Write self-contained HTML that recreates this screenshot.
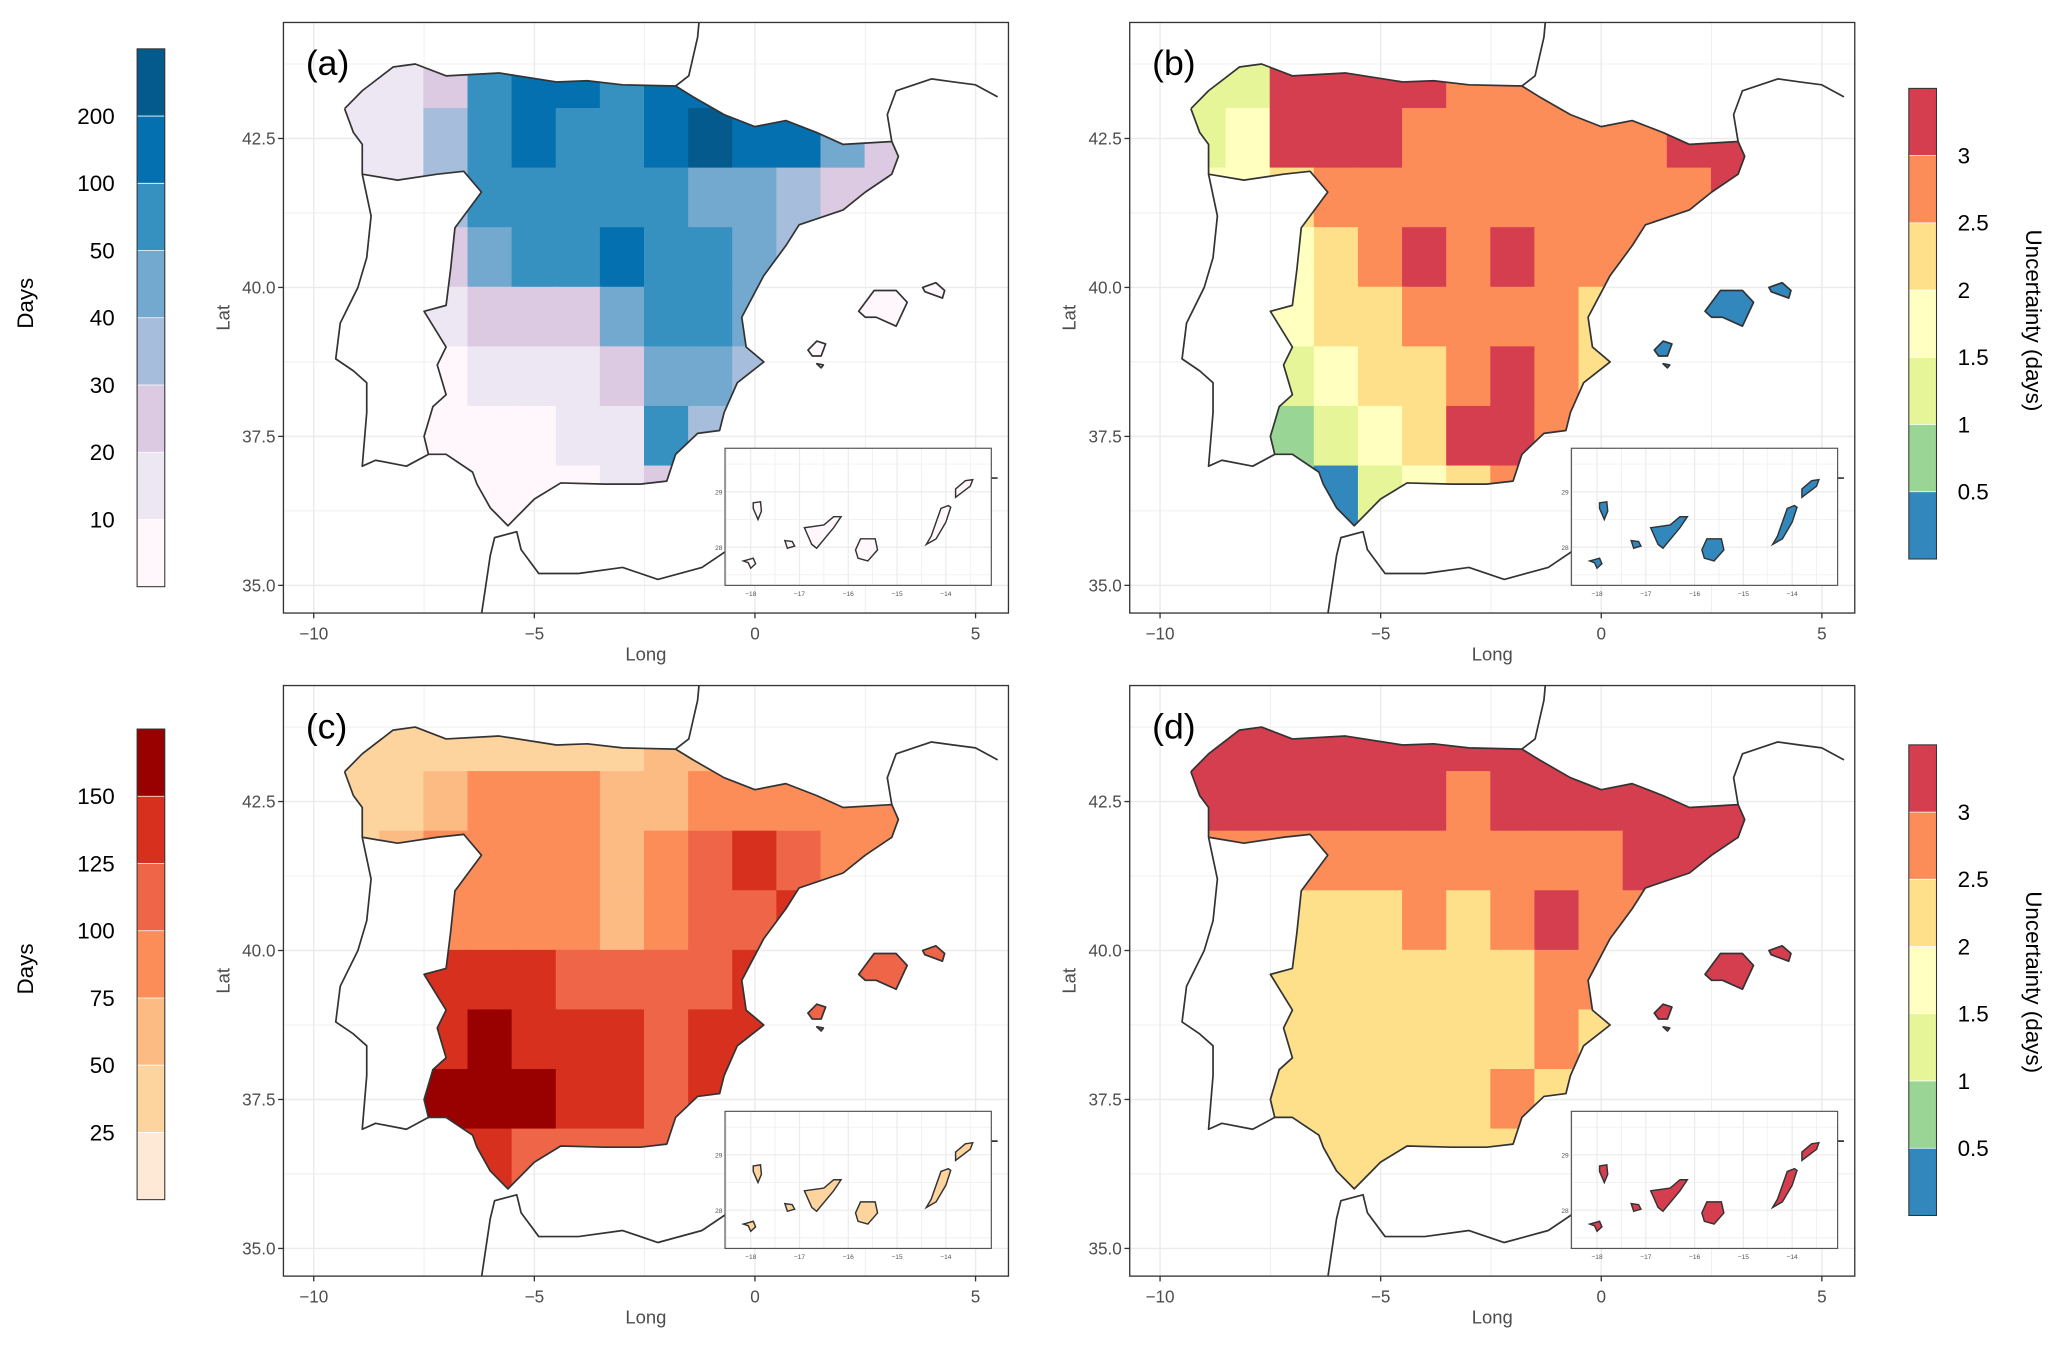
<!DOCTYPE html>
<html><head><meta charset="utf-8"><style>
html,body{margin:0;padding:0;background:#fff;}
svg{display:block;font-family:"Liberation Sans",Arial,sans-serif;}
</style></head><body>
<svg id="fig" width="2067" height="1350" viewBox="0 0 1568 1024" xmlns="http://www.w3.org/2000/svg"></svg>
<script>
// ---- data ----
const lonCenters=[-9,-8,-7,-6,-5,-4,-3,-2,-1,0,1,2,3];
const latCenters=[43.5,42.5,41.5,40.5,39.5,38.5,37.5,36.5];
const gridA=[
[15,15,25,60,100,100,60,100,100,60,40,40,40],
[10,15,30,60,100,60,60,100,200,100,100,40,20],
[10,10,30,60,60,60,60,60,45,40,30,20,20],
[10,10,20,45,60,60,100,60,60,40,30,20,10],
[5,5,10,20,20,20,40,50,60,40,30,20,15],
[5,5,5,10,10,15,20,40,45,30,15,10,10],
[5,5,5,5,5,10,15,60,30,10,10,5,5],
[5,5,5,5,5,5,10,20,10,5,5,5,5]];
const gridB=[
[1.2,1.2,3.2,3.2,3.2,3.2,2.7,2.7,2.7,2.7,2.7,2.7,2.7],
[1.2,1.7,3.2,3.2,3.2,2.7,2.7,2.7,2.7,2.7,2.7,3.2,3.2],
[1.7,1.7,2.2,2.7,2.7,2.7,2.7,2.7,2.7,2.7,2.7,2.7,3.2],
[1.7,1.7,1.7,2.2,2.7,3.2,2.7,3.2,2.7,2.7,2.7,2.7,2.7],
[1.7,1.7,1.7,2.2,2.2,2.7,2.7,2.7,2.7,2.2,1.7,1.7,1.7],
[1.7,1.7,1.2,1.7,2.2,2.2,2.7,3.2,2.7,2.2,1.7,1.7,1.7],
[1.2,1.2,0.7,1.2,1.7,2.2,3.2,3.2,2.7,2.2,1.7,1.7,1.7],
[0.2,0.2,0.7,0.2,1.2,1.7,2.2,2.7,2.2,1.7,1.7,1.7,1.7]];
const gridC=[
[40,40,40,40,40,40,40,50,50,50,60,60,60],
[40,40,60,80,80,80,60,60,80,90,90,80,80],
[40,60,80,80,80,80,60,90,110,130,110,90,90],
[60,80,90,90,90,80,70,90,110,110,130,120,110],
[130,130,130,130,130,110,100,110,110,130,130,130,130],
[130,130,140,160,130,130,130,120,130,130,130,130,130],
[160,160,160,160,160,140,130,120,140,140,130,130,130],
[130,130,140,140,110,100,100,100,120,120,120,120,120]];
const gridD=[
[3.2,3.2,3.2,3.2,3.2,3.2,3.2,3.2,3.2,3.2,3.2,3.2,3.2],
[3.2,3.2,3.2,3.2,3.2,3.2,2.7,3.2,3.2,3.2,3.2,3.2,3.2],
[2.7,2.7,2.7,2.7,2.7,2.7,2.7,2.7,2.7,2.7,3.2,3.2,3.2],
[2.2,2.2,2.2,2.2,2.2,2.7,2.2,2.7,3.2,2.7,2.7,2.7,2.7],
[2.2,2.2,2.2,2.2,2.2,2.2,2.2,2.2,2.7,2.7,2.2,2.2,2.2],
[2.2,2.2,2.2,2.2,2.2,2.2,2.2,2.2,2.7,2.2,2.2,2.2,2.2],
[2.2,2.2,2.2,2.2,2.2,2.2,2.2,2.7,2.2,2.2,2.2,2.2,2.2],
[2.2,2.2,2.2,2.2,2.2,2.2,2.2,2.2,2.2,2.2,2.2,2.2,2.2]];
const balearicValues=[5,0.2,120,3.2];
const canaryValues=[5,0.2,40,3.2];
const xTicks=[-10,-5,0,5];
const yTicks=[35,37.5,40,42.5];
const yTickLabels=["35.0","37.5","40.0","42.5"];
const insetXTicks=[-18,-17,-16,-15,-14];
const insetYTicks=[28,29];
const daysBreaksA=[10,20,30,40,50,100,200];
const daysLabelsA=["10","20","30","40","50","100","200"];
const daysBreaksC=[25,50,75,100,125,150];
const daysLabelsC=["25","50","75","100","125","150"];
const uncBreaks=[0.5,1,1.5,2,2.5,3];
const uncLabels=["0.5","1","1.5","2","2.5","3"];
// ---- styles ----
const colA=["#fff7fb","#ece7f2","#dcc9e2","#a6bddb","#74a9cf","#3690c0","#0570b0","#045a8d"];
const colC=["#fee8d6","#fdd49e","#fdbb84","#fc8d59","#ef6548","#d7301f","#990000"];
const colU=["#3288bd","#99d594","#e6f598","#ffffbf","#fee08b","#fc8d59","#d53e4f"];
const spain=[[-9.3,43.0],[-8.9,43.3],[-8.2,43.7],[-7.7,43.75],[-7.0,43.55],[-5.8,43.6],[-4.5,43.45],[-3.8,43.47],[-3.0,43.4],[-1.8,43.38],[-1.4,43.2],[-0.7,42.9],[0.0,42.7],[0.7,42.8],[1.4,42.6],[2.0,42.4],[3.1,42.45],[3.25,42.2],[3.1,41.9],[2.5,41.6],[2.0,41.3],[1.0,41.05],[0.7,40.7],[0.2,40.2],[-0.3,39.5],[-0.2,39.0],[0.2,38.75],[-0.4,38.4],[-0.7,37.9],[-0.8,37.6],[-1.3,37.55],[-1.8,37.2],[-2.0,36.75],[-2.6,36.7],[-3.4,36.7],[-4.4,36.72],[-5.0,36.45],[-5.6,36.0],[-6.0,36.3],[-6.3,36.7],[-6.4,36.9],[-7.0,37.2],[-7.4,37.2],[-7.5,37.5],[-7.3,38.0],[-7.0,38.2],[-7.2,38.7],[-7.0,39.0],[-7.5,39.6],[-7.0,39.7],[-6.9,40.3],[-6.8,41.0],[-6.2,41.6],[-6.6,41.95],[-7.2,41.9],[-8.1,41.8],[-8.9,41.9],[-8.9,42.4],[-9.1,42.6]];
const portugal=[[-8.9,41.9],[-8.7,41.2],[-8.8,40.5],[-9.0,40.0],[-9.4,39.4],[-9.5,38.8],[-9.1,38.6],[-8.8,38.4],[-8.8,37.9],[-8.9,37.0],[-8.6,37.1],[-7.9,37.0],[-7.4,37.2]];
const france1=[[-1.8,43.38],[-1.5,43.55],[-1.3,44.2],[-1.2,45.0]];
const france2=[[3.1,42.45],[3.0,42.9],[3.2,43.3],[4.0,43.5],[4.5,43.45],[5.0,43.4],[5.5,43.2]];
const africa=[[-6.3,34.0],[-6.0,35.5],[-5.9,35.8],[-5.4,35.9],[-5.3,35.6],[-4.9,35.2],[-4.0,35.2],[-3.0,35.3],[-2.2,35.1],[-1.2,35.3],[0.0,35.9],[1.0,36.4],[3.0,36.8],[5.5,36.8]];
const mallorca=[[2.35,39.6],[2.7,39.95],[3.2,39.95],[3.45,39.75],[3.2,39.35],[2.75,39.5],[2.5,39.5]];
const menorca=[[3.8,40.0],[4.1,40.08],[4.3,39.95],[4.25,39.82],[3.85,39.93]];
const ibiza=[[1.2,38.95],[1.4,39.1],[1.6,39.05],[1.5,38.85],[1.3,38.85]];
const formentera=[[1.4,38.72],[1.55,38.7],[1.5,38.65]];
const canaries=[
[[-13.8,28.9],[-13.5,29.1],[-13.45,29.22],[-13.6,29.2],[-13.8,29.05]],
[[-14.4,28.05],[-14.2,28.15],[-14.0,28.45],[-13.9,28.72],[-13.95,28.75],[-14.1,28.7],[-14.3,28.2]],
[[-15.85,27.95],[-15.75,28.15],[-15.45,28.15],[-15.4,27.95],[-15.6,27.75],[-15.8,27.8]],
[[-16.9,28.35],[-16.5,28.4],[-16.3,28.55],[-16.15,28.55],[-16.3,28.35],[-16.65,27.98],[-16.75,28.05]],
[[-17.3,28.12],[-17.15,28.1],[-17.1,28.02],[-17.25,27.98]],
[[-17.95,28.8],[-17.8,28.82],[-17.78,28.65],[-17.85,28.5],[-17.95,28.7]],
[[-18.15,27.75],[-17.95,27.8],[-17.9,27.7],[-18.0,27.62],[-18.05,27.72]]];
const panels=[
{id:"a",bx:215,by:17,grid:gridA,cols:colA,brk:daysBreaksA},
{id:"b",bx:857,by:17,grid:gridB,cols:colU,brk:uncBreaks},
{id:"c",bx:215,by:520,grid:gridC,cols:colC,brk:daysBreaksC},
{id:"d",bx:857,by:520,grid:gridD,cols:colU,brk:uncBreaks}];
const NS="http://www.w3.org/2000/svg";
const svg=document.getElementById("fig");
function mk(tag,attrs,parent){const e=document.createElementNS(NS,tag);for(const k in attrs)e.setAttribute(k,attrs[k]);(parent||svg).appendChild(e);return e;}
function colorFor(v,brk,cols){let i=0;while(i<brk.length&&v>=brk[i])i++;return cols[i];}
const defs=mk("defs",{});
panels.forEach((p,pi)=>{
  const W=550,H=448;
  const sx=lon=>p.bx+23+(lon+10)*33.47;
  const sy=lat=>p.by+427-(lat-35)*45.2;
  const pts=arr=>arr.map(q=>sx(q[0]).toFixed(1)+","+sy(q[1]).toFixed(1)).join(" ");
  const g=mk("g",{});
  
  
  mk("rect",{x:p.bx,y:p.by,width:W,height:H,fill:"#fff"},g);
  for(let lon=-10;lon<=5;lon+=2.5){const x=sx(lon);mk("line",{x1:x,x2:x,y1:p.by,y2:p.by+H,stroke:"#ebebeb","stroke-width":lon%5===0?1.1:0.6},g);}
  for(let lat=33.75;lat<=45;lat+=1.25){const y=sy(lat);if(y<p.by||y>p.by+H)continue;mk("line",{x1:p.bx,x2:p.bx+W,y1:y,y2:y,stroke:"#ebebeb","stroke-width":(lat-35)%2.5===0?1.1:0.6},g);}
  const cp=mk("clipPath",{id:"clip"+p.id},defs);
  mk("polygon",{points:pts(spain)},cp);
  const cells=mk("g",{"clip-path":"url(#clip"+p.id+")"},g);
  
  
  p.grid.forEach((row,r)=>row.forEach((v,c)=>{
    const x0=sx(lonCenters[c]-0.5),x1=sx(lonCenters[c]+0.5),y0=sy(latCenters[r]+0.5),y1=sy(latCenters[r]-0.5);
    const rc=mk("rect",{x:x0-0.5,y:y0-0.5,width:x1-x0+1,height:y1-y0+1,fill:colorFor(v,p.brk,p.cols)},cells);
    
    
  }));
  const ln={fill:"none",stroke:"#333","stroke-width":1.3,"stroke-linejoin":"round"};
  const clipBox=mk("clipPath",{id:"box"+p.id},defs);mk("rect",{x:p.bx,y:p.by,width:W,height:H},clipBox);
  const lines=mk("g",{"clip-path":"url(#box"+p.id+")"},g);
  mk("polyline",Object.assign({points:pts(spain.concat([spain[0]]))},ln),lines);
  mk("polyline",Object.assign({points:pts(portugal)},ln),lines);
  mk("polyline",Object.assign({points:pts(france1)},ln),lines);
  mk("polyline",Object.assign({points:pts(france2)},ln),lines);
  mk("polyline",Object.assign({points:pts(africa)},ln),lines);
  const bc=colorFor(balearicValues[pi],p.brk,p.cols);
  [mallorca,menorca,ibiza,formentera].forEach(isl=>{const e=mk("polygon",Object.assign({points:pts(isl)},ln,{fill:bc}),lines);});
  const ix=p.bx+335,iy=p.by+323,iw=202,ih=104;
  const ig=mk("g",{},g);
  
  
  mk("rect",{x:ix,y:iy,width:iw,height:ih,fill:"#fff"},ig);
  const isx=lon=>ix+19.5+(lon+18)*37;
  const isy=lat=>iy+33-(lat-29)*42;
  for(let lon=-18.5;lon<=-13;lon+=0.5){const x=isx(lon);if(x<ix||x>ix+iw)continue;mk("line",{x1:x,x2:x,y1:iy,y2:iy+ih,stroke:"#ebebeb","stroke-width":Number.isInteger(lon)?0.9:0.5},ig);}
  for(let lat=27.5;lat<=29.5;lat+=0.5){const y=isy(lat);mk("line",{x1:ix,x2:ix+iw,y1:y,y2:y,stroke:"#ebebeb","stroke-width":Number.isInteger(lat)?0.9:0.5},ig);}
  const cc=colorFor(canaryValues[pi],p.brk,p.cols);
  canaries.forEach(isl=>{const e=mk("polygon",{points:isl.map(q=>isx(q[0]).toFixed(1)+","+isy(q[1]).toFixed(1)).join(" "),fill:cc,stroke:"#333","stroke-width":1.1},ig);});
  mk("rect",{x:ix,y:iy,width:iw,height:ih,fill:"none",stroke:"#555","stroke-width":0.9},ig);
  insetXTicks.forEach(t=>{const x=isx(t);const tx=mk("text",{x:x,y:iy+ih+8,"font-size":5,fill:"#555","text-anchor":"middle"},ig);tx.textContent=String(t).replace("-","−");});
  insetYTicks.forEach(t=>{const y=isy(t);const tx=mk("text",{x:ix-2,y:y+2,"font-size":5,fill:"#555","text-anchor":"end"},ig);tx.textContent=t;});
  mk("rect",{x:p.bx,y:p.by,width:W,height:H,fill:"none",stroke:"#333","stroke-width":1},g);
  xTicks.forEach(t=>{const x=sx(t);mk("line",{x1:x,x2:x,y1:p.by+H,y2:p.by+H+4,stroke:"#333"},g);const tx=mk("text",{x:x,y:p.by+H+20,"font-size":13,fill:"#4d4d4d","text-anchor":"middle"},g);tx.textContent=String(t).replace("-","−");});
  yTicks.forEach((t,i)=>{const y=sy(t);mk("line",{x1:p.bx-4,x2:p.bx,y1:y,y2:y,stroke:"#333"},g);const tx=mk("text",{x:p.bx-6,y:y+4.5,"font-size":13,fill:"#4d4d4d","text-anchor":"end"},g);tx.textContent=yTickLabels[i];});
  const xl=mk("text",{x:p.bx+275,y:p.by+H+36,"font-size":14,fill:"#4d4d4d","text-anchor":"middle"},g);xl.textContent="Long";
  
  const yl=mk("text",{x:0,y:0,"font-size":14,fill:"#4d4d4d","text-anchor":"middle",transform:"translate("+(p.bx-41)+","+(p.by+224)+") rotate(-90)"},g);yl.textContent="Lat";
  
  const pl=mk("text",{x:p.bx+17,y:p.by+40,"font-size":27,fill:"#000"},g);pl.textContent="("+p.id+")";
  
});
function legend(name,x,yTop,cols,labels,title,titleX,titleY,textX){
  const g=mk("g",{});
  
  
  const h=51,n=cols.length;
  for(let i=0;i<n;i++){mk("rect",{x:x,y:yTop+(n-1-i)*h,width:21,height:h,fill:cols[i]},g);}
  for(let i=1;i<n;i++){mk("line",{x1:x,x2:x+21,y1:yTop+i*h,y2:yTop+i*h,stroke:"#fff","stroke-width":0.6},g);}
  mk("rect",{x:x,y:yTop,width:21,height:n*h,fill:"none",stroke:"#333","stroke-width":0.8},g);
  labels.forEach((l,i)=>{const y=yTop+(n-1-i)*h;const t=mk("text",{x:textX,y:y+6,"font-size":17,fill:"#000","text-anchor":textX<x?"end":"start"},g);t.textContent=l;});
  const t=mk("text",{x:0,y:0,"font-size":17,fill:"#000","text-anchor":"middle",transform:"translate("+titleX+","+titleY+") rotate("+(titleX<100?-90:90)+")"},g);t.textContent=title;
  
}
legend("legend-days-a",104,37,colA,daysLabelsA,"Days",25,230,87);
legend("legend-uncertainty-b",1448,67,colU,uncLabels,"Uncertainty (days)",1537,243,1485);
legend("legend-days-c",104,553,colC,daysLabelsC,"Days",25,735,87);
legend("legend-uncertainty-d",1448,565,colU,uncLabels,"Uncertainty (days)",1537,745,1485);
</script>
</body></html>
